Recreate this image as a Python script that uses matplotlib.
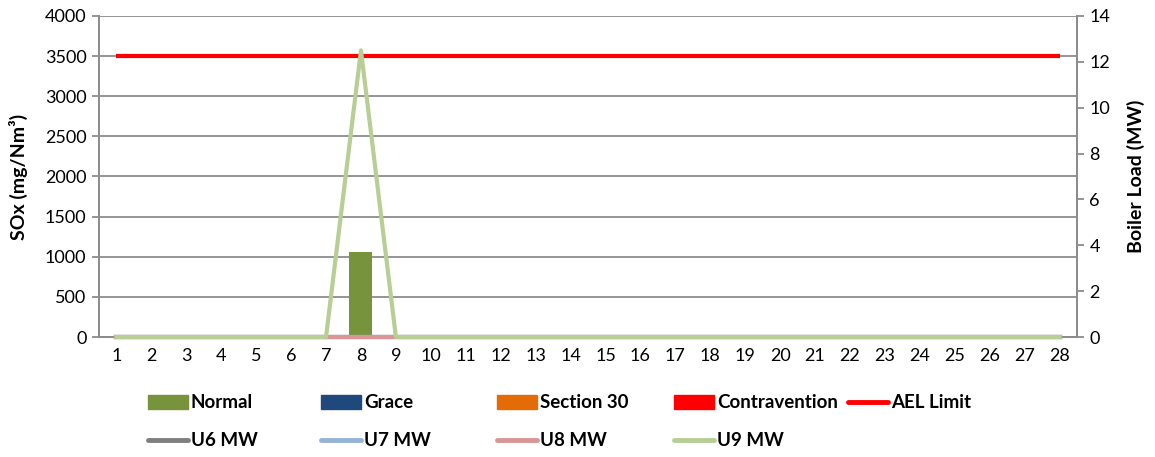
import matplotlib
matplotlib.use("Agg")
import matplotlib.pyplot as plt
from matplotlib.patches import Rectangle
from matplotlib.lines import Line2D
import numpy as np

plt.rcParams['font.family'] = ['Lato', 'DejaVu Sans']

days = [str(d) for d in range(1, 29)]
normal = [0]*7 + [1060] + [0]*20
grace = [0]*28
section30 = [0]*28
contravention = [0]*28
ael_limit = [3500]*28
u6_mw = [0]*28
u7_mw = [0]*28
u8_mw = [0]*28
u9_mw = [0]*7 + [12.5] + [0]*20

W, H = 1155, 457
fig = plt.figure(figsize=(W/100, H/100), dpi=100)
ax = fig.add_axes([99/W, 1-337/H, (1077-99)/W, (337-16)/H])
ax2 = ax.twinx()

x = np.arange(len(days))
grid_c = '#8c8c8c'
bw = 0.66
ax.bar(x, normal, width=bw, color='#77933C', zorder=3)
ax.bar(x, grace, width=bw, bottom=normal, color='#1F497D', zorder=3)
ax.plot(x, ael_limit, color='#FF0000', lw=3, zorder=4, solid_capstyle='butt')

for vals, col in ((u6_mw, '#7F7F7F'), (u7_mw, '#95B3D7'),
                  (u8_mw, '#D99694'), (u9_mw, '#B7CE94')):
    ax2.plot(x, vals, color=col, lw=3, clip_on=False, zorder=5)

ax.set_xlim(-0.5, len(days)-0.5)
ax.set_ylim(0, 4000)
ax.set_yticks(np.arange(0, 4001, 500))
ax2.set_ylim(0, 14)
ax2.set_yticks(np.arange(0, 15, 2))
ax.set_xticks(x)
ax.set_xticklabels(days)
ax.grid(axis='y', color=grid_c, lw=1.3, zorder=0)
ax.set_axisbelow(True)
for a in (ax, ax2):
    a.spines['top'].set_visible(False)
    for s in ['left', 'right', 'bottom']:
        a.spines[s].set_color(grid_c)
        a.spines[s].set_linewidth(1.3)
ax.tick_params(axis='x', length=0, labelsize=13, pad=8, colors='black')
ax.tick_params(axis='y', length=5, width=1.3, color=grid_c, labelsize=13, pad=4)
ax2.tick_params(axis='y', length=5, width=1.3, color=grid_c, labelsize=13, pad=4)
ax.set_ylabel('SOx (mg/Nm³)', fontsize=14, fontweight='bold', labelpad=12)
ax2.set_ylabel('Boiler Load (MW)', fontsize=14, fontweight='bold', labelpad=12)

# legend, drawn in figure pixel coordinates
def fx(px): return px / W
def fy(py): return 1 - py / H

legend_row1 = [('Normal', '#77933C', 'patch'), ('Grace', '#1F497D', 'patch'),
               ('Section 30', '#E36C09', 'patch'), ('Contravention', '#FF0000', 'patch'),
               ('AEL Limit', '#FF0000', 'line')]
legend_row2 = [('U6 MW', '#7F7F7F', 'line'), ('U7 MW', '#95B3D7', 'line'),
               ('U8 MW', '#D99694', 'line'), ('U9 MW', '#B7CE94', 'line')]
col_x = [148, 321, 497, 674, 848]
for row, ypx in ((legend_row1, 402), (legend_row2, 440)):
    for (label, color, kind), x0 in zip(row, col_x):
        if kind == 'patch':
            fig.add_artist(Rectangle((fx(x0), fy(ypx+7)), 40/W, 14/H,
                                     transform=fig.transFigure, color=color))
        else:
            fig.add_artist(Line2D([fx(x0), fx(x0+40)], [fy(ypx), fy(ypx)],
                                  transform=fig.transFigure, color=color, lw=3.5,
                                  solid_capstyle='round'))
        fig.text(fx(x0+43), fy(ypx), label, fontsize=13.5, fontweight='bold',
                 va='center', ha='left')

fig.savefig('out.png', dpi=100)
